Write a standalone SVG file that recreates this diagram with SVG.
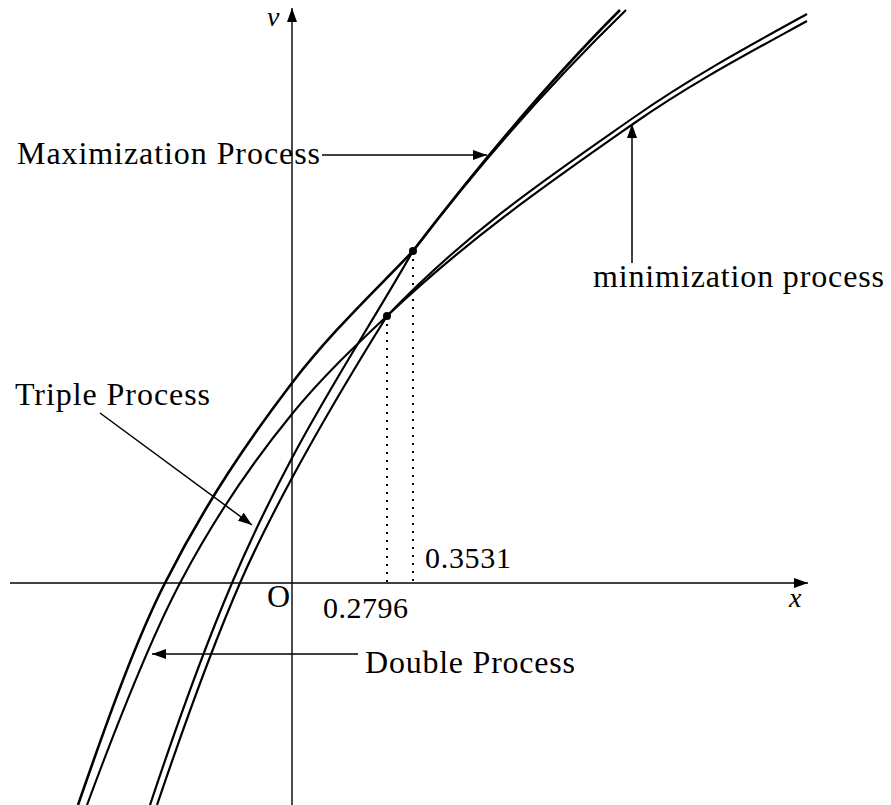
<svg xmlns="http://www.w3.org/2000/svg" width="891" height="805" viewBox="0 0 891 805">
<style>
.axis{stroke:#000;stroke-width:1.4;fill:none}
.crv{stroke:#000;fill:none;stroke-linejoin:round}
.lead{stroke:#000;stroke-width:1.5;fill:none}
.dot{stroke:#000;stroke-width:2;stroke-dasharray:2 6;fill:none}
.lbl{font-family:"Liberation Serif","Times New Roman",serif;font-size:32px;fill:#000}
.num{font-family:"Liberation Serif","Times New Roman",serif;font-size:30px;fill:#000}
.var{font-family:"Liberation Serif","Times New Roman",serif;font-style:italic;font-size:28px;fill:#000}
</style>
<defs>
<marker id="ah" viewBox="0 0 14 10" refX="14" refY="5" markerWidth="14" markerHeight="10" markerUnits="userSpaceOnUse" orient="auto">
<path d="M0,0 L14,5 L0,10 z" fill="#000"/>
</marker>
</defs>
<rect width="891" height="805" fill="#fff"/>
<g id="axes">
<line class="axis" x1="10" y1="583" x2="808" y2="583" marker-end="url(#ah)"/>
<line class="axis" x1="292" y1="805" x2="292" y2="8" marker-end="url(#ah)"/>
<text class="var" x="789" y="607">x</text>
<text class="var" x="267" y="26">v</text>
<text class="lbl" x="267" y="607" font-size="27">O</text>
</g>
<g id="curves">
<path id="curveA" class="crv" stroke-width="2.6" d="M78,805 C107,721 136,640 165,583 C207,500 250,438 292,383 C332,331 373,293 413,251 C482,161 551,79 620,10"/>
<path id="curveB" class="crv" stroke-width="2.1" d="M87,805 C118,721.3 149,641.9 180,583 C217.3,512.1 254.7,459.5 292,414 C323.7,375.3 355.3,346.1 387,316 C469,230 551,175.4 633,118 C691,77.4 749,45.9 807,14"/>
<path id="curveC1" class="crv" stroke-width="2.2" d="M150,805 C177.3,723 204.7,647.2 232,583 C252,536 272,495.6 292,458 C332.3,382.2 372.7,321.5 413,251 C484,158 556,78 626,10"/>
<path id="curveC2" class="crv" stroke-width="2.2" d="M157,805 C184.7,723.3 212.3,646.7 240,583 C257.3,543.2 274.7,510 292,478 C323.7,419.4 355.3,366.7 387,316 C469,238 551,181.4 633,124 C691,83.4 749,52.9 807,21"/>
</g>
<g id="points">
<circle cx="413" cy="251" r="4" fill="#000"/>
<circle cx="387" cy="316" r="4" fill="#000"/>
<line class="dot" x1="413" y1="259" x2="413" y2="583"/>
<line class="dot" x1="387" y1="324" x2="387" y2="583"/>
<text class="num" x="425" y="568" textLength="86">0.3531</text>
<text class="num" x="323" y="618" textLength="85">0.2796</text>
</g>
<g id="label-max">
<text class="lbl" x="17" y="164" textLength="303">Maximization Process</text>
</g>
<g id="label-min">
<text class="lbl" x="593" y="287" textLength="291">minimization process</text>
</g>
<g id="label-triple">
<text class="lbl" x="15" y="405" textLength="195">Triple Process</text>
</g>
<g id="label-double">
<text class="lbl" x="365" y="673" textLength="210">Double Process</text>
</g>
<g id="connectors">
<line class="lead" x1="322" y1="155" x2="487" y2="155" marker-end="url(#ah)"/>
<line class="lead" x1="632" y1="263" x2="632" y2="124" marker-end="url(#ah)"/>
<line class="lead" x1="100" y1="413" x2="252" y2="525" marker-end="url(#ah)"/>
<line class="lead" x1="358" y1="654" x2="152" y2="654" marker-end="url(#ah)"/>
</g>
</svg>
